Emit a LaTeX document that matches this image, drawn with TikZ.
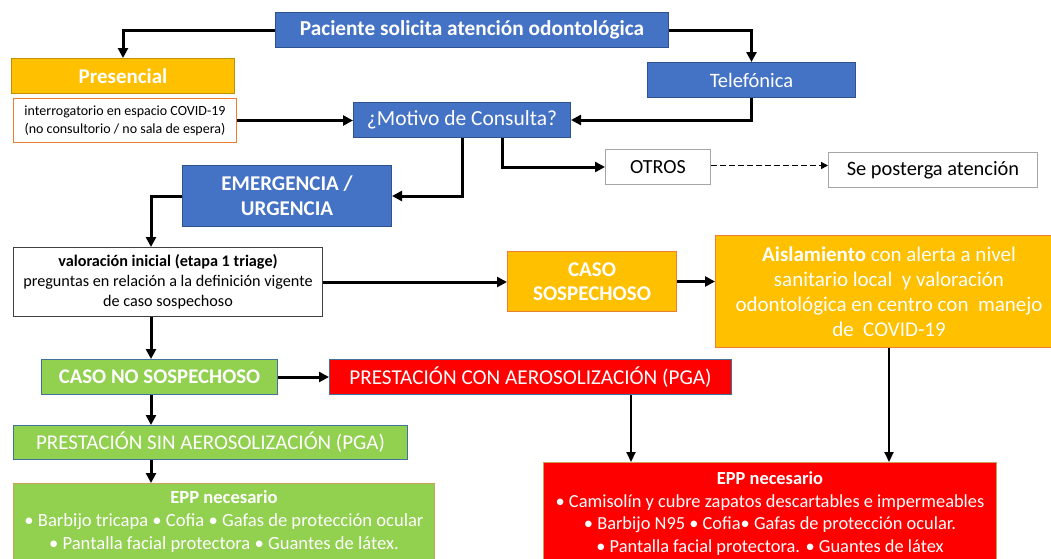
\documentclass[tikz,border=0pt]{standalone}
\usepackage{fontspec}
\setmainfont{Carlito}
\usetikzlibrary{arrows.meta}
\definecolor{bl}{HTML}{4472C4}
\definecolor{blb}{HTML}{2F528F}
\definecolor{org}{HTML}{FFC000}
\definecolor{orgb}{HTML}{BF9000}
\definecolor{orgb2}{HTML}{ED7D31}
\definecolor{grn}{HTML}{92D050}
\definecolor{grnb}{HTML}{41719C}
\definecolor{rd}{HTML}{FF0000}
\definecolor{eppb}{HTML}{C9A15A}
\definecolor{gb}{HTML}{A6A6A6}
\tikzset{
  box/.style={draw, line width=1pt, inner sep=0pt, anchor=north west, align=center, font=\fontsize{21}{25}\selectfont},
  bluebox/.style={box, fill=bl, draw=blb, text=white},
  orgbox/.style={box, fill=org, draw=orgb, text=white},
  grnbox/.style={box, fill=grn, draw=grnb, text=white},
  redbox/.style={box, fill=rd, draw=grnb, text=white},
  whitebox/.style={box, fill=white, draw=gb, text=black},
  arr/.style={line width=3pt, -{Triangle[length=10pt,width=10pt]}},
  arrthin/.style={line width=2pt, -{Triangle[length=10pt,width=9pt]}},
}
\begin{document}
\begin{tikzpicture}[x=1pt,y=-1pt]
\useasboundingbox (0,0) rectangle (1051,558);
\clip (0,0) rectangle (1051,558);
\node[bluebox, minimum width=393, minimum height=35, font=\bfseries\fontsize{21.3}{25}\selectfont] (pac) at (275,12) {Paciente solicita atención odontológica};
\node[orgbox, minimum width=223, minimum height=35, font=\bfseries\fontsize{21}{25}\selectfont] (pres) at (11,58) {Presencial};
\node[whitebox, draw=orgb2, minimum width=223, minimum height=44, font=\fontsize{14}{18}\selectfont] (int) at (13,98) {interrogatorio en espacio COVID-19\\(no consultorio / no sala de espera)};
\node[bluebox, minimum width=217, minimum height=35, font=\fontsize{21.5}{25}\selectfont] (mot) at (353,102) {¿Motivo de Consulta?};
\node[bluebox, minimum width=208, minimum height=35, font=\fontsize{20.5}{25}\selectfont] (tel) at (647,62) {Telefónica};
\node[bluebox, minimum width=209, minimum height=61, font=\bfseries\fontsize{21}{25}\selectfont] (emer) at (182,165) {EMERGENCIA /\\URGENCIA};
\node[whitebox, minimum width=105, minimum height=35, font=\fontsize{20}{24}\selectfont] (otros) at (605,149) {OTROS};
\node[whitebox, minimum width=209, minimum height=35, font=\fontsize{20.4}{24}\selectfont] (se) at (828,152) {Se posterga atención};
\node[whitebox, draw=black!75, minimum width=309, minimum height=69, font=\fontsize{16.2}{20}\selectfont] (val) at (13,247) {\textbf{valoración inicial (etapa 1 triage)}\\preguntas en relación a la definición vigente\\de caso sospechoso};
\node[orgbox, draw=orgb2, minimum width=169, minimum height=60, font=\bfseries\fontsize{21}{24.5}\selectfont] (cs) at (507,251) {CASO\\SOSPECHOSO};
\node[orgbox, draw=orgb2, minimum width=347, minimum height=112, font=\fontsize{21}{25}\selectfont] (ais) at (715,235) {\textbf{Aislamiento} con alerta a nivel\\sanitario local\ \ y valoración\\odontológica en centro con\ \ manejo\\de\ \ COVID-19};
\node[grnbox, minimum width=236, minimum height=35, font=\bfseries\fontsize{20.8}{25}\selectfont] (cno) at (41,359) {CASO NO SOSPECHOSO};
\node[redbox, minimum width=402, minimum height=35, font=\fontsize{21.2}{25}\selectfont] (pcon) at (329,359) {PRESTACIÓN CON AEROSOLIZACIÓN (PGA)};
\node[grnbox, minimum width=394, minimum height=34, font=\fontsize{21}{25}\selectfont] (psin) at (13,425) {PRESTACIÓN SIN AEROSOLIZACIÓN (PGA)};
\node[grnbox, draw=eppb, minimum width=421, minimum height=76, font=\fontsize{18.6}{23}\selectfont] (eppg) at (13,483) {\textbf{EPP necesario}\\• Barbijo tricapa • Cofia • Gafas de protección ocular\\• Pantalla facial protectora • Guantes de látex.};
\node[redbox, draw=eppb, minimum width=453, minimum height=102, font=\fontsize{18.4}{22.5}\selectfont] (eppr) at (543,462) {\textbf{EPP necesario}\\• Camisolín y cubre zapatos descartables e impermeables\\• Barbijo N95 • Cofia• Gafas de protección ocular.\\• Pantalla facial protectora. • Guantes de látex};
\coordinate (sp) at (151,0);
\coordinate (sp2) at (631,0);
\draw[arr] (pac.west) -| (pres.north);
\draw[arr] (pac.east) -| (tel.north);
\draw[arr] (int.east) -- (int.east -| mot.west);
\draw[arr] (tel.south) |- (mot.east);
\draw[arr] (mot.south) |- (emer.east);
\draw[arr] ([xshift=40pt]mot.south) |- (otros.west);
\draw[line width=1.5pt, dashed, dash pattern=on 6pt off 3pt, -{Triangle[length=7pt,width=7pt]}] ([yshift=1.5pt]otros.east) -- ([yshift=1.5pt]otros.east -| se.west);
\draw[arr] (emer.west) -| (sp |- val.north);
\draw[arr] (val.east) -- (val.east -| cs.west);
\draw[arr] (cs.east) -- (cs.east -| ais.west);
\draw[arr] (sp |- val.south) -- (sp |- cno.north);
\draw[arr] (cno.east) -- (cno.east -| pcon.west);
\draw[arr] (sp |- cno.south) -- (sp |- psin.north);
\draw[arr] (sp |- psin.south) -- (sp |- eppg.north);
\draw[arrthin] (sp2 |- pcon.south) -- (sp2 |- eppr.north);
\draw[arrthin] (ais.south) -- (ais.south |- eppr.north);
\end{tikzpicture}
\end{document}
